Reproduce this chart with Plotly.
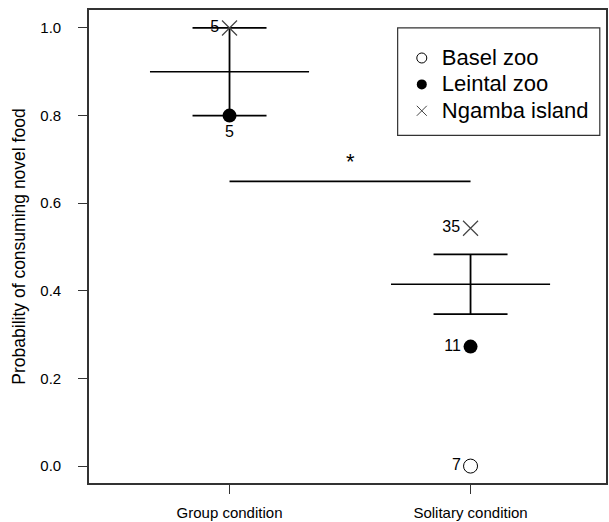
import plotly.graph_objects as go

# ---- data ----
conditions = ["Group condition", "Solitary condition"]
cond_pos = [1, 2]
basel = [None, 0.0]
leintal = [0.8, 0.2727]
ngamba = [1.0, 0.5429]
basel_n = ["", "7"]
leintal_n = ["5", "11"]
ngamba_n = ["5", "35"]
means = [0.9, 0.415]
se = [0.1, 0.068]
sig_y = 0.65
sig_label = "*"
series_names = ["Basel zoo", "Leintal zoo", "Ngamba island"]
y_ticks = [0.0, 0.2, 0.4, 0.6, 0.8, 1.0]
y_ticktext = ["0.0", "0.2", "0.4", "0.6", "0.8", "1.0"]

FONT = "Liberation Sans, Arial, sans-serif"
INK = "black"
MEAN_HALF = 0.33


def big(s):
    return "<span style='font-size:22px'>" + s + "</span>"


fig = go.Figure()

# mean lines
for p, m in zip(cond_pos, means):
    fig.add_trace(go.Scatter(x=[p - MEAN_HALF, p + MEAN_HALF], y=[m, m], mode="lines",
                             line=dict(color=INK, width=1.6), showlegend=False, hoverinfo="skip"))

# error bars (invisible markers at mean)
fig.add_trace(go.Scatter(x=cond_pos, y=means, mode="markers",
                         marker=dict(size=1, color="rgba(0,0,0,0)"),
                         error_y=dict(type="data", array=se, visible=True, color=INK,
                                      thickness=1.8, width=37),
                         showlegend=False, hoverinfo="skip"))

# significance line
fig.add_trace(go.Scatter(x=cond_pos, y=[sig_y, sig_y], mode="lines",
                         line=dict(color=INK, width=1.8), showlegend=False, hoverinfo="skip"))

# data points
fig.add_trace(go.Scatter(x=cond_pos, y=basel, mode="markers+text", text=basel_n,
                         textposition=["middle left", "middle left"],
                         textfont=dict(family=FONT, size=16, color=INK),
                         marker=dict(symbol="circle-open", size=14, color=INK, line=dict(width=1)),
                         showlegend=False))
fig.add_trace(go.Scatter(x=cond_pos, y=leintal, mode="markers+text", text=leintal_n,
                         textposition=["bottom center", "middle left"],
                         textfont=dict(family=FONT, size=16, color=INK),
                         marker=dict(symbol="circle", size=14, color=INK),
                         showlegend=False))
fig.add_trace(go.Scatter(x=cond_pos, y=ngamba, mode="markers+text", text=ngamba_n,
                         textposition=["middle left", "middle left"],
                         textfont=dict(family=FONT, size=16, color=INK),
                         marker=dict(symbol="x-thin-open", size=15, color="#444",
                                     line=dict(width=1.2, color="#444")),
                         showlegend=False))

# legend entries
fig.add_trace(go.Scatter(x=[None], y=[None], mode="markers", name=big(series_names[0]),
                         marker=dict(symbol="circle-open", size=10, color=INK, line=dict(width=1)),
                         legendgroup="a"))
fig.add_trace(go.Scatter(x=[None], y=[None], mode="markers", name=big(series_names[1]),
                         marker=dict(symbol="circle", size=10, color=INK), legendgroup="b"))
fig.add_trace(go.Scatter(x=[None], y=[None], mode="markers", name=big(series_names[2]),
                         marker=dict(symbol="x-thin-open", size=10, color="#444",
                                     line=dict(width=1, color="#444")), legendgroup="c"))

fig.add_annotation(x=sum(cond_pos) / 2, y=sig_y + 0.045, text=sig_label, showarrow=False,
                   font=dict(family=FONT, size=22, color=INK), yanchor="middle")

# legend box
fig.add_shape(type="rect", xref="paper", yref="paper", x0=0.597, x1=0.988, y0=0.735, y1=0.962,
              line=dict(color="#333", width=1.2), fillcolor="rgba(0,0,0,0)")

fig.update_layout(
    width=609, height=522,
    margin=dict(l=89, r=1, t=10, b=37),
    paper_bgcolor="white", plot_bgcolor="white",
    font=dict(family=FONT, color=INK),
    legend=dict(x=0.605, y=0.937, xanchor="left", yanchor="top",
                bgcolor="rgba(0,0,0,0)", borderwidth=0,
                font=dict(family=FONT, size=18, color=INK),
                tracegroupgap=0),
    showlegend=True,
)
fig.update_xaxes(range=[0.417, 2.562], tickmode="array", tickvals=cond_pos, ticktext=conditions,
                 ticks="outside", ticklen=9, tickwidth=1.2, tickcolor="#333",
                 showline=True, linecolor="#333", linewidth=1.6, mirror=True,
                 showgrid=False, zeroline=False, ticklabelstandoff=6,
                 tickfont=dict(family=FONT, size=15, color=INK))
fig.update_yaxes(range=[-0.0386, 1.041], tickmode="array", tickvals=y_ticks, ticktext=y_ticktext,
                 ticks="outside", ticklen=9, tickwidth=1.2, tickcolor="#333",
                 showline=True, linecolor="#333", linewidth=1.6, mirror=True,
                 showgrid=False, zeroline=False, ticklabelstandoff=14,
                 tickfont=dict(family=FONT, size=15, color=INK),
                 title=dict(text="Probability of consuming novel food", standoff=10,
                            font=dict(family=FONT, size=17.5, color=INK)))

fig.write_html("out.html")
